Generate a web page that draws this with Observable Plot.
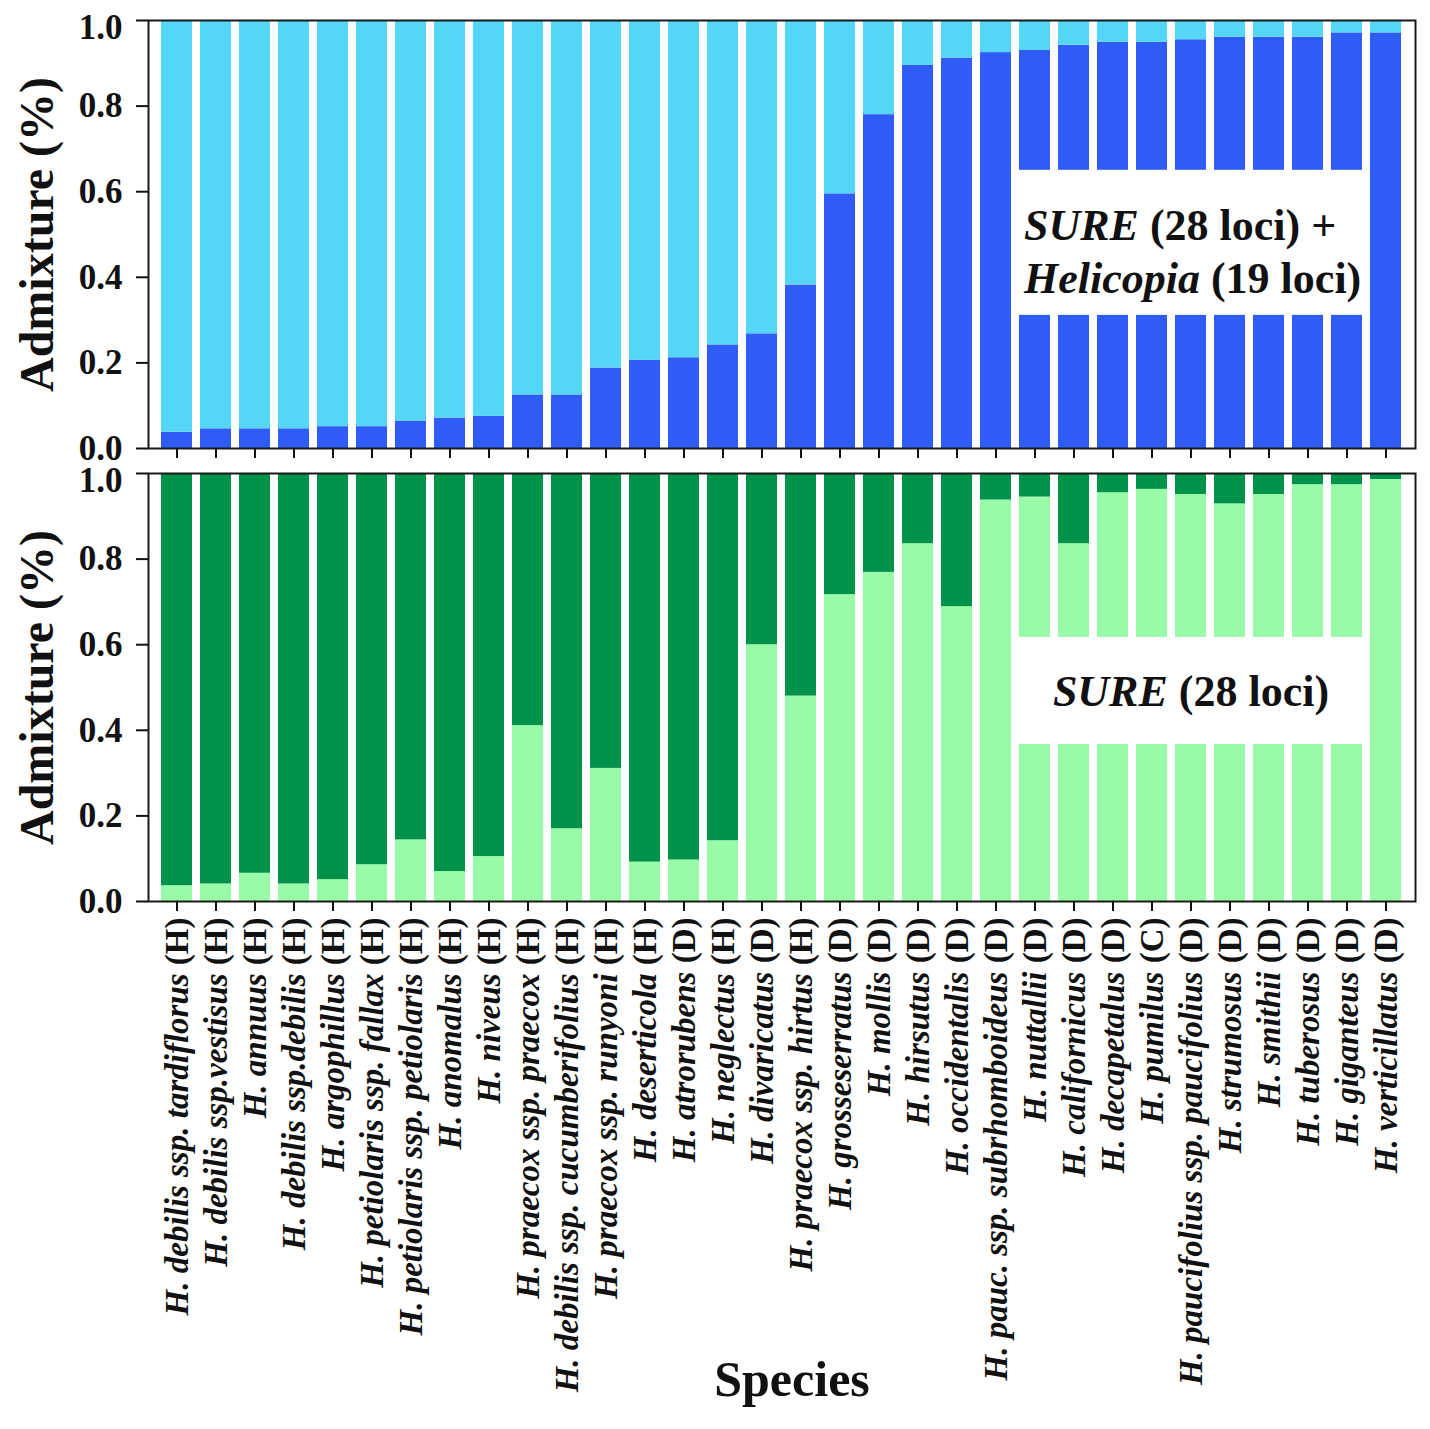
<!DOCTYPE html>
<html>
<head>
<meta charset="utf-8">
<script src="https://cdn.jsdelivr.net/npm/d3@7"></script>
<script src="https://cdn.jsdelivr.net/npm/@observablehq/plot@0.6"></script>
<style>
  body { margin: 0; background: #fff; }
  #chart { width: 1430px; }
  #chart svg { display: block; overflow: visible; font-family: "Liberation Serif", "Times New Roman", serif; font-weight: bold; color: #111; }
  g[aria-label="y-axis label"] { font-size: 48px; }
  g[aria-label="x-axis label"] { font-size: 50px; }
  g[aria-label="x-axis tick label"] text { white-space: pre; }
</style>
</head>
<body>
<div id="chart"></div>
<script>
// ---------- data ----------
const species = [
  "H. debilis ssp. tardiflorus", "H. debilis ssp.vestisus", "H. annuus", "H. debilis ssp.debilis",
  "H. argophillus", "H. petiolaris ssp. fallax", "H. petiolaris ssp. petiolaris", "H. anomalus",
  "H. niveus", "H. praecox ssp. praecox", "H. debilis ssp. cucumberifolius", "H. praecox ssp. runyoni",
  "H. deserticola", "H. atrorubens", "H. neglectus", "H. divaricatus",
  "H. praecox ssp. hirtus", "H. grosseserratus", "H. mollis", "H. hirsutus",
  "H. occidentalis", "H. pauc. ssp. subrhomboideus", "H. nuttallii", "H. californicus",
  "H. decapetalus", "H. pumilus", "H. paucifolius ssp. paucifolius", "H. strumosus",
  "H. smithii", "H. tuberosus", "H. giganteus", "H. verticillatus"
];
const origin = [
  "H","H","H","H","H","H","H","H","H","H","H","H","H","D","H","D",
  "H","D","D","D","D","D","D","D","D","C","D","D","D","D","D","D"
];
// SURE (28 loci) + Helicopia (19 loci): proportion of the dark-blue cluster
const combinedDark = [
  0.038, 0.046, 0.046, 0.046, 0.051, 0.051, 0.064, 0.071,
  0.075, 0.125, 0.125, 0.188, 0.206, 0.212, 0.242, 0.268,
  0.382, 0.595, 0.780, 0.895, 0.912, 0.925, 0.930, 0.942,
  0.949, 0.949, 0.955, 0.961, 0.961, 0.961, 0.971, 0.971
];
// SURE (28 loci): proportion of the light-green cluster
const sureLight = [
  0.037, 0.041, 0.066, 0.041, 0.051, 0.086, 0.144, 0.070,
  0.105, 0.411, 0.170, 0.311, 0.092, 0.097, 0.142, 0.600,
  0.480, 0.717, 0.769, 0.836, 0.689, 0.938, 0.945, 0.836,
  0.955, 0.963, 0.951, 0.929, 0.951, 0.974, 0.974, 0.986
];
const yTicks = [0, 0.2, 0.4, 0.6, 0.8, 1.0];
const topNote = "SURE (28 loci) +\nHelicopia (19 loci)";
const bottomNote = "SURE (28 loci)";

// ---------- derived tables ----------
const labels = species.map((s, i) => `${s} (${origin[i]})`);
const topRows = [];
labels.forEach((l, i) => {
  topRows.push({label: l, cluster: "dark", value: combinedDark[i]});
  topRows.push({label: l, cluster: "light", value: 1 - combinedDark[i]});
});
const bottomRows = [];
labels.forEach((l, i) => {
  bottomRows.push({label: l, cluster: "light", value: sureLight[i]});
  bottomRows.push({label: l, cluster: "dark", value: 1 - sureLight[i]});
});
const boxCats = labels.slice(22, 31);

const xScale = {domain: labels, paddingInner: 0.2, paddingOuter: 0.12};
const yAxisOpts = {
  ticks: yTicks, tickFormat: d3.format(".1f"), tickSize: 12, tickPadding: 14,
  fontSize: 35, strokeWidth: 2, label: "Admixture (%)", labelArrow: "none",
  labelAnchor: "center", labelOffset: 130
};

const topChart = Plot.plot({
  width: 1430, height: 462,
  marginTop: 20, marginLeft: 148, marginRight: 15, marginBottom: 14,
  x: xScale,
  y: {domain: [0, 1]},
  color: {domain: ["dark", "light"], range: ["#2f5cf5", "#56d6f7"]},
  marks: [
    Plot.barY(topRows, {x: "label", y: "value", fill: "cluster", order: ["dark", "light"]}),
    Plot.barY(boxCats, {x: d => d, y1: () => 0.311, y2: () => 0.650, fill: "white"}),
    Plot.text([topNote], {
      x: () => labels[22], y: () => 0.464, text: d => d,
      textAnchor: "start", dx: -11, fontSize: 44, lineHeight: 1.2, fill: "#111"
    }),
    Plot.frame({stroke: "#1a1a1a", strokeWidth: 2}),
    Plot.axisY(yAxisOpts),
    Plot.axisX({fill: "none", tickSize: 10, strokeWidth: 2})
  ]
});

const bottomChart = Plot.plot({
  width: 1430, height: 967,
  marginTop: 11, marginLeft: 148, marginRight: 15, marginBottom: 528,
  x: xScale,
  y: {domain: [0, 1]},
  color: {domain: ["light", "dark"], range: ["#97fba8", "#00914b"]},
  marks: [
    Plot.barY(bottomRows, {x: "label", y: "value", fill: "cluster", order: ["light", "dark"]}),
    Plot.barY(boxCats, {x: d => d, y1: () => 0.367, y2: () => 0.617, fill: "white"}),
    Plot.text([bottomNote], {
      x: () => labels[26], y: () => 0.49, text: d => d,
      textAnchor: "middle", fontSize: 44, fill: "#111"
    }),
    Plot.frame({stroke: "#1a1a1a", strokeWidth: 2}),
    Plot.axisY(yAxisOpts),
    Plot.axisX({
      tickSize: 10, tickPadding: 6, tickRotate: -90, fontSize: 33, strokeWidth: 2,
      label: "Species", labelArrow: "none", labelAnchor: "center", labelOffset: 494
    })
  ]
});

const container = document.getElementById("chart");
container.appendChild(topChart);
container.appendChild(bottomChart);

// italic species names, upright origin codes
d3.select(bottomChart).selectAll('g[aria-label="x-axis tick label"] text').each(function () {
  const full = this.textContent;
  const m = full.match(/^(.*)\s(\([A-Z]\))$/);
  if (!m) return;
  const sel = d3.select(this);
  sel.text(null);
  sel.append("tspan").attr("font-style", "italic").text(m[1]);
  sel.append("tspan").attr("font-style", "normal").text("\u00a0" + m[2]);
});

// italic first word in the panel notes
for (const chart of [topChart, bottomChart]) {
  d3.select(chart).selectAll('g[aria-label="text"] text').each(function () {
    const t = d3.select(this);
    const lines = t.selectAll("tspan").size() ? t.selectAll("tspan").nodes() : [this];
    for (const node of lines) {
      const s = node.textContent;
      const m = s.match(/^(\S+)(.*)$/);
      if (!m) continue;
      const n = d3.select(node);
      n.text(null);
      n.append("tspan").attr("font-style", "italic").text(m[1]);
      n.append("tspan").attr("font-style", "normal").text(m[2].replace(/^ /, "\u00a0"));
    }
  });
  // the "1.0" tick label sits slightly below its tick in the original
  d3.select(chart).selectAll('g[aria-label="y-axis tick label"] text').each(function () {
    if (this.textContent === "1.0") {
      const tr = this.getAttribute("transform") || "";
      this.setAttribute("transform", tr + " translate(0,7)");
    }
  });
}
// shift "Species" slightly right (keep Plot's own offset)
const xl = d3.select(bottomChart).select('g[aria-label="x-axis label"]');
xl.attr("transform", ((xl.attr("transform") || "") + " translate(10,0)").trim());
</script>
</body>
</html>
